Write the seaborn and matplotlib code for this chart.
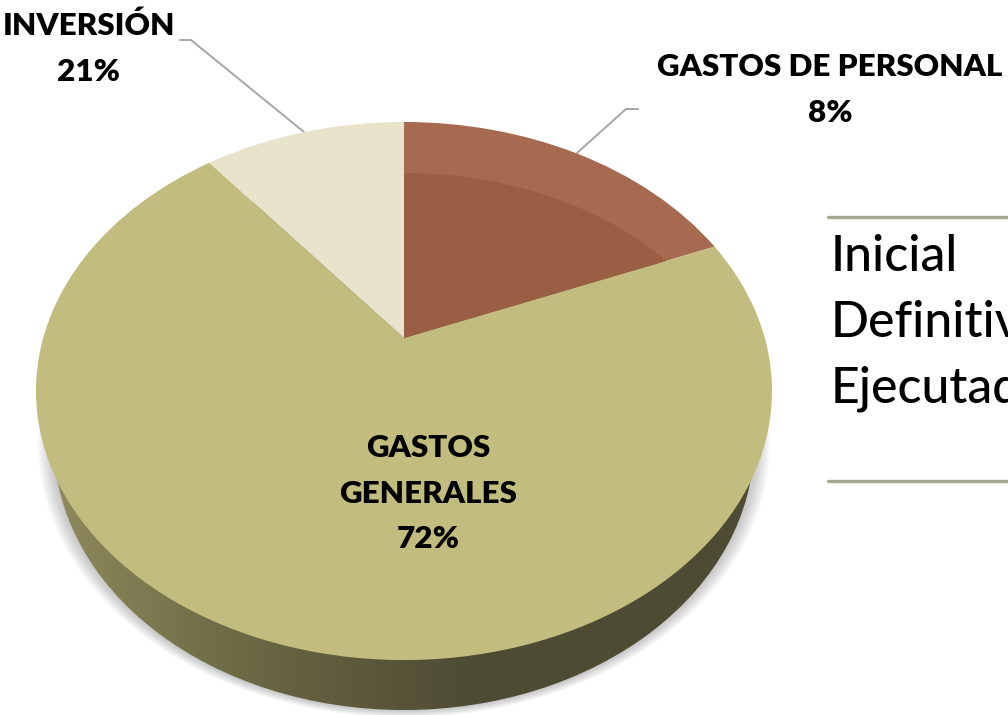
import numpy as np
import matplotlib
matplotlib.use("Agg")
import matplotlib.pyplot as plt
import seaborn as sns
from matplotlib.patches import Ellipse
from matplotlib.transforms import Transform

# Slice shares as drawn (the printed percentages do not match the drawn sizes)
categories = ["GASTOS DE PERSONAL", "GASTOS GENERALES", "INVERSIÓN"]
drawn_shares = [18.8, 70.5, 10.7]
printed_pct = ["8%", "72%", "21%"]
legend_items = ["Inicial", "Definitivo", "Ejecutado"]

sns.set_theme(style="white")
plt.rcParams["font.family"] = ["Lato", "DejaVu Sans"]
palette = sns.color_palette(["#a56a50", "#c2bd7f", "#e8e4cc"])
brown_dark = "#9a5e44"
leader_grey = "#a6a6a6"
rule_green = "#a3ab92"


class TiltedDisc(Transform):
    # unit pie circle -> tilted disc in pixels, apex sits above the ellipse centre
    input_dims = 2
    output_dims = 2
    is_separable = False

    def transform_non_affine(self, values):
        u, v = values[:, 0], values[:, 1]
        w = 1 + 0.197 * v
        return np.column_stack([404 + 360.8 * u / w, (338 - 192 * v) / w])


fig = plt.figure(figsize=(10.08, 7.15), dpi=100)
ax = fig.add_axes([0, 0, 1, 1])

wedges, _ = ax.pie(drawn_shares, colors=palette, startangle=90, counterclock=False,
                   wedgeprops=dict(linewidth=0))
tilt = TiltedDisc() + ax.transData
for w in wedges:
    w.set_transform(tilt)
    w.set_zorder(5)

ax.set_aspect("auto")
ax.set_xlim(0, 1008)
ax.set_ylim(715, 0)
ax.axis("off")

# soft shadow under the disc
for i in range(10):
    ax.add_patch(Ellipse((404, 443), 2 * (350 + i * 1.8), 2 * (267 + i * 0.8),
                         color="#555555", alpha=0.04, lw=0, zorder=1))

# side wall, gradient runs light on the left to dark past the middle
wall = Ellipse((404, 443), 700, 534, color="none", lw=0, zorder=2)
ax.add_patch(wall)
wall_cmap = sns.blend_palette(["#8e8a5c", "#74704a", "#5f5c3d", "#4d4b33", "#4d4b33", "#4d4b33"], as_cmap=True)
grad = ax.imshow(np.linspace(0, 1, 256)[None, :], cmap=wall_cmap, aspect="auto",
                 extent=(54, 754, 715, 170), zorder=3)
grad.set_clip_path(wall)
ax.set_xlim(0, 1008)
ax.set_ylim(715, 0)

# darker inner part of the brown slice, rim stays lighter
inner = Ellipse((404, 420), 686, 494, color=brown_dark, lw=0, zorder=6)
ax.add_patch(inner)
inner.set_clip_path(wedges[0])

# leader lines
ax.plot([180, 191, 304], [40, 40, 132], color=leader_grey, lw=1.4, zorder=4)
ax.plot([638, 626, 577], [109, 109, 153], color=leader_grey, lw=1.4, zorder=4)

# data labels
bold = dict(fontsize=22.6, fontweight="heavy", color="black", ha="center", va="baseline", zorder=8)
ax.text(89, 35, categories[2], **bold)
ax.text(89, 81, printed_pct[2], **bold)
ax.text(830, 76, categories[0], **bold)
ax.text(830, 122, printed_pct[0], **bold)
ax.text(428, 457, "GASTOS", **bold)
ax.text(428, 503, "GENERALES", **bold)
ax.text(428, 548, printed_pct[1], **bold)

# legend panel, runs off the right edge
ax.plot([828, 1008], [217, 217], color=rule_green, lw=2.4, zorder=4)
ax.plot([828, 1008], [481, 481], color=rule_green, lw=2.4, zorder=4)
for label, base in zip(legend_items, [271, 337, 403]):
    ax.text(831, base, label, fontsize=36, fontweight="medium", color="black",
            ha="left", va="baseline", zorder=8)

fig.savefig("out.png", dpi=100)
